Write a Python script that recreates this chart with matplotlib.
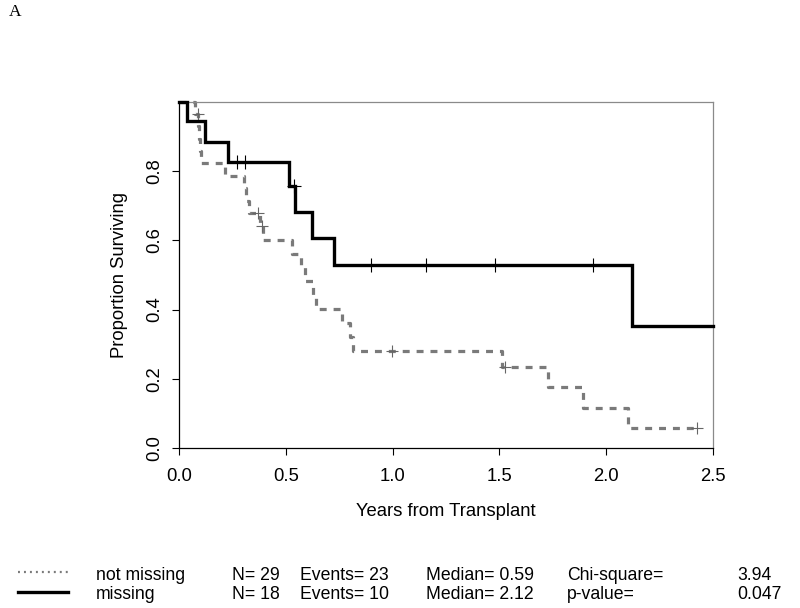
import numpy as np
import matplotlib
matplotlib.use("Agg")
import matplotlib.pyplot as plt
from matplotlib.lines import Line2D

plt.rcParams['font.family'] = ['Liberation Sans', 'DejaVu Sans']
plt.rcParams['lines.scale_dashes'] = False

# ---------------- data ----------------
# group "not missing" (gray dashed)
nm_times = [0, 0.075, 0.090, 0.093, 0.096, 0.102, 0.217, 0.305, 0.313, 0.326,
            0.380, 0.395, 0.527, 0.570, 0.590, 0.629, 0.641, 0.762, 0.800, 0.815,
            1.511, 1.729, 1.890, 2.100]
nm_surv = [1.0, 0.966, 0.930, 0.894, 0.859, 0.823, 0.787, 0.751, 0.715, 0.680,
           0.642, 0.602, 0.562, 0.522, 0.482, 0.441, 0.401, 0.361, 0.321, 0.281,
           0.234, 0.176, 0.117, 0.059]
nm_end = 2.423
nm_censor = [0.087, 0.369, 0.389, 0.996, 1.526, 2.423]

# group "missing" (black solid)
m_times = [0, 0.036, 0.120, 0.231, 0.516, 0.543, 0.624, 0.726, 2.122]
m_surv = [1.0, 0.944, 0.885, 0.826, 0.757, 0.681, 0.606, 0.530, 0.353]
m_end = 2.5
m_censor = [0.270, 0.309, 0.538, 0.899, 1.155, 1.479, 1.937]

groups = ['not missing', 'missing']
n_vals = [29, 18]
events = [23, 10]
medians = ['0.59', '2.12']
stat_names = ['Chi-square=', 'p-value=']
stat_vals = ['3.94', '0.047']

x_ticks = [0.0, 0.5, 1.0, 1.5, 2.0, 2.5]
y_ticks = [0.0, 0.2, 0.4, 0.6, 0.8]

# ---------------- figure ----------------
W, H = 800, 608
fig = plt.figure(figsize=(W / 100, H / 100), dpi=100)
ax = fig.add_axes([179 / W, 1 - 448 / H, (713 - 179) / W, (448 - 102) / H])
ax.set_xlim(0, 2.5)
ax.set_ylim(0, 1.0)

GRAY = '#7a7a7a'
FS = 13.3
LFS = 12.7


def surv_at(times, surv, t):
    idx = np.searchsorted(np.asarray(times), t, side='right') - 1
    return np.asarray(surv)[idx]


# gray dashed step
ax.step(list(nm_times) + [nm_end], list(nm_surv) + [nm_surv[-1]], where='post',
        color=GRAY, lw=2.3, dashes=(5.0, 5.0), dash_capstyle='butt',
        clip_on=False, zorder=2)
ax.plot(nm_censor, surv_at(nm_times, nm_surv, nm_censor), ls='none', marker='+',
        ms=9, mew=0.8, color='#666666', clip_on=False, zorder=3)

# black solid step
ax.step(list(m_times) + [m_end], list(m_surv) + [m_surv[-1]], where='post',
        color='black', lw=2.4, solid_joinstyle='miter', clip_on=False, zorder=4)
ax.plot(m_censor, surv_at(m_times, m_surv, m_censor), ls='none', marker='+',
        ms=9.5, mew=0.8, color='black', clip_on=False, zorder=5)

# axes styling
for side in ['left', 'bottom']:
    ax.spines[side].set_color('black')
    ax.spines[side].set_linewidth(0.9)
for side in ['top', 'right']:
    ax.spines[side].set_color('#8a8a8a')
    ax.spines[side].set_linewidth(0.9)

ax.set_xticks(x_ticks)
ax.set_xticklabels([f'{v:.1f}' for v in x_ticks])
ax.set_yticks(y_ticks)
ax.set_yticklabels([f'{v:.1f}' for v in y_ticks], rotation=90, va='center')
ax.tick_params(axis='x', direction='out', length=5, width=0.8, pad=9.5, labelsize=FS)
ax.tick_params(axis='y', direction='out', length=5, width=0.8, pad=6.5, labelsize=FS)

ax.set_xlabel('Years from Transplant', fontsize=FS, labelpad=13)
ax.set_ylabel('Proportion Surviving', fontsize=FS, labelpad=13)

# panel label
fig.text(15 / W, 1 - 12 / H, 'A', family='Liberation Serif', fontsize=12.5,
         ha='center', va='center')

# ---------------- legend block ----------------
row_base = [580, 599]
fig.add_artist(Line2D([18 / W, 68 / W], [1 - 572 / H] * 2, color=GRAY, lw=1.6,
                      dashes=(1.4, 2.9)))
fig.add_artist(Line2D([18 / W, 68 / W], [1 - 592 / H] * 2, color='black', lw=2.4))
for i in range(2):
    y = 1 - row_base[i] / H
    fs = LFS
    fig.text(96 / W, y, groups[i], fontsize=fs, va='baseline')
    fig.text(232 / W, y, f'N= {n_vals[i]}', fontsize=fs, va='baseline')
    fig.text(300 / W, y, f'Events= {events[i]}', fontsize=fs, va='baseline')
    fig.text(426 / W, y, f'Median= {medians[i]}', fontsize=fs, va='baseline')
    fig.text(567 / W, y, stat_names[i], fontsize=fs, va='baseline')
    fig.text(737 / W, y, stat_vals[i], fontsize=fs, va='baseline')

fig.savefig('out.png', dpi=100)
